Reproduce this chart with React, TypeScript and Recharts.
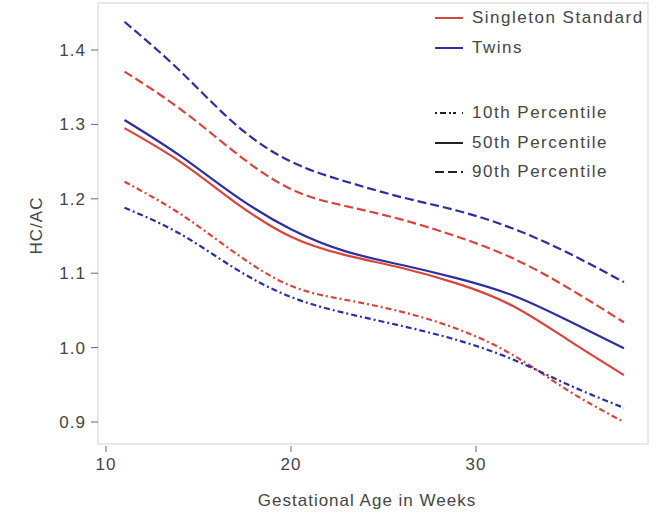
import React from 'react';
import { LineChart, Line, XAxis, YAxis, ReferenceArea, Legend } from 'recharts';

// Colours.
const RED = '#d9443c';
const BLUE = '#2b2f9f';
const INK = '#454545';
const TICK = '#6a6a6a';
const FRAME = '#e2e2e2';
const FONT = '"Liberation Sans", Arial, Helvetica, sans-serif';

const DASH = '9 4';
const DASH_DOT = '6 3 2 3';

// Axis extents (the plot frame runs a little past the outer ticks).
const X_DOMAIN: [number, number] = [9.568, 39.3];
const Y_DOMAIN: [number, number] = [0.8704, 1.4632];

// Gestational age (weeks) and HC/AC percentile curves.
const WEEKS = [11, 14, 17, 20, 23, 26, 29, 32, 35, 38];
const SINGLETON_P10 = [1.223, 1.18, 1.127, 1.083, 1.064, 1.048, 1.025, 0.99, 0.942, 0.9];
const SINGLETON_P50 = [1.295, 1.25, 1.195, 1.149, 1.124, 1.107, 1.086, 1.056, 1.01, 0.963];
const SINGLETON_P90 = [1.371, 1.321, 1.262, 1.213, 1.19, 1.172, 1.149, 1.12, 1.08, 1.034];
const TWINS_P10 = [1.188, 1.153, 1.106, 1.068, 1.046, 1.029, 1.01, 0.984, 0.95, 0.919];
const TWINS_P50 = [1.306, 1.258, 1.204, 1.159, 1.129, 1.111, 1.093, 1.07, 1.036, 0.999];
const TWINS_P90 = [1.438, 1.372, 1.3, 1.25, 1.223, 1.202, 1.184, 1.16, 1.127, 1.088];

const X_TICKS = [10, 20, 30];
const Y_TICKS = [0.9, 1.0, 1.1, 1.2, 1.3, 1.4];

const data = WEEKS.map((week, i) => ({
  week,
  s10: SINGLETON_P10[i],
  s50: SINGLETON_P50[i],
  s90: SINGLETON_P90[i],
  t10: TWINS_P10[i],
  t50: TWINS_P50[i],
  t90: TWINS_P90[i],
}));

const LEGEND_ROWS = [
  { label: 'Singleton Standard', color: RED, dash: undefined, top: 18 },
  { label: 'Twins', color: BLUE, dash: undefined, top: 48 },
  { label: '10th Percentile', color: '#222', dash: '2 3 6 3 2', top: 113 },
  { label: '50th Percentile', color: '#222', dash: undefined, top: 143 },
  { label: '90th Percentile', color: '#222', dash: DASH, top: 172 },
];

function LegendBox() {
  return (
    <div style={{ position: 'relative', width: 0, height: 0 }}>
      {LEGEND_ROWS.map((r) => (
        <div
          key={r.label}
          style={{
            position: 'absolute',
            left: 435,
            top: r.top - 10,
            height: 20,
            display: 'flex',
            alignItems: 'center',
            whiteSpace: 'nowrap',
            fontFamily: FONT,
            fontSize: 17,
            letterSpacing: 1.5,
            color: INK,
          }}
        >
          <svg width={28} height={6} style={{ marginRight: 9 }}>
            <line x1={0} x2={28} y1={3} y2={3} stroke={r.color} strokeWidth={2} strokeDasharray={r.dash} />
          </svg>
          {r.label}
        </div>
      ))}
    </div>
  );
}

function XTick({ x, y, payload }: any) {
  return (
    <g>
      <line x1={x} x2={x} y1={y + 2} y2={y + 8} stroke={TICK} />
      <text x={x} y={y + 26} textAnchor="middle" fill={INK} fontSize={17} fontFamily={FONT} style={{ letterSpacing: 1 }}>
        {payload.value}
      </text>
    </g>
  );
}

export default function App() {
  return (
    <div style={{ position: 'absolute', left: 0, top: 0, background: '#fff' }}>
      <LineChart width={662} height={515} data={data} margin={{ top: 3, right: 14, bottom: 0, left: 0 }}>
        <ReferenceArea
          x1={X_DOMAIN[0]}
          x2={X_DOMAIN[1]}
          y1={Y_DOMAIN[0]}
          y2={Y_DOMAIN[1]}
          fill="none"
          stroke={FRAME}
          strokeWidth={1.5}
          ifOverflow="visible"
        />
        <XAxis
          type="number"
          dataKey="week"
          domain={X_DOMAIN}
          allowDataOverflow
          ticks={X_TICKS}
          height={71}
          axisLine={false}
          tickLine={false}
          tickSize={0}
          tickMargin={0}
          tick={XTick}
          label={({ viewBox }: any) => (
            <text
              x={viewBox.x + viewBox.width / 2 - 6}
              y={viewBox.y + 62}
              textAnchor="middle"
              fill={INK}
              fontSize={17}
              fontFamily={FONT}
              style={{ letterSpacing: 1 }}
            >
              Gestational Age in Weeks
            </text>
          )}
        />
        <YAxis
          type="number"
          width={98}
          domain={Y_DOMAIN}
          allowDataOverflow
          ticks={Y_TICKS}
          tickFormatter={(v: number) => v.toFixed(1)}
          axisLine={false}
          tickLine={{ stroke: TICK }}
          tickSize={7}
          tickMargin={5}
          tick={{ fill: INK, fontSize: 17, fontFamily: FONT, style: { letterSpacing: 1 } }}
          label={({ viewBox }: any) => {
            const cx = viewBox.x + 36;
            const cy = viewBox.y + viewBox.height / 2 + 2;
            return (
              <text
                x={cx}
                y={cy}
                transform={`rotate(-90, ${cx}, ${cy})`}
                textAnchor="middle"
                dominantBaseline="central"
                fill={INK}
                fontSize={17}
                fontFamily={FONT}
                style={{ letterSpacing: 1 }}
              >
                HC/AC
              </text>
            );
          }}
        />
        <Legend content={() => <LegendBox />} wrapperStyle={{ top: 0, left: 0, width: 0, height: 0 }} />
        <Line type="natural" dataKey="t90" stroke={BLUE} strokeWidth={2.2} strokeDasharray={DASH} dot={false} isAnimationActive={false} />
        <Line type="natural" dataKey="s90" stroke={RED} strokeWidth={2.2} strokeDasharray={DASH} dot={false} isAnimationActive={false} />
        <Line type="natural" dataKey="t50" stroke={BLUE} strokeWidth={2.2} dot={false} isAnimationActive={false} />
        <Line type="natural" dataKey="s50" stroke={RED} strokeWidth={2.2} dot={false} isAnimationActive={false} />
        <Line type="natural" dataKey="s10" stroke={RED} strokeWidth={2.2} strokeDasharray={DASH_DOT} dot={false} isAnimationActive={false} />
        <Line type="natural" dataKey="t10" stroke={BLUE} strokeWidth={2.2} strokeDasharray={DASH_DOT} dot={false} isAnimationActive={false} />
      </LineChart>
    </div>
  );
}
